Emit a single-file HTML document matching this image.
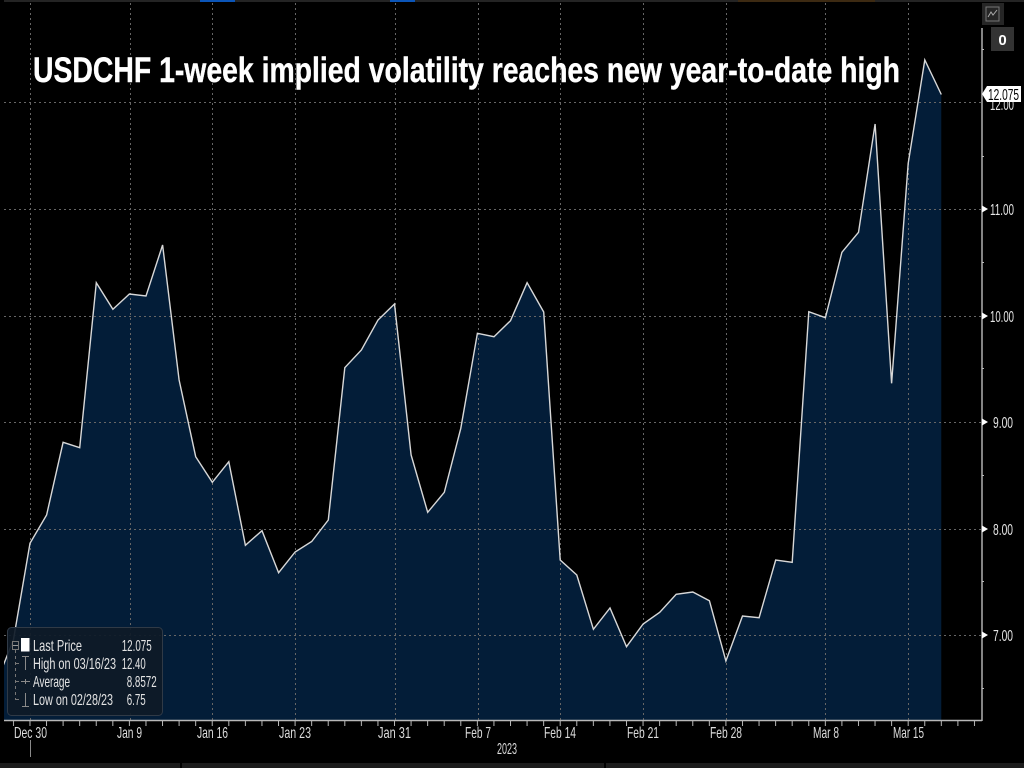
<!DOCTYPE html>
<html>
<head>
<meta charset="utf-8">
<style>
  html,body{margin:0;padding:0;background:#000;}
  body{width:1024px;height:768px;overflow:hidden;}
  svg{display:block;}
  text{font-family:"Liberation Sans",sans-serif;}
</style>
</head>
<body>
<svg width="1024" height="768" viewBox="0 0 1024 768" xmlns="http://www.w3.org/2000/svg">
  <defs>
    <clipPath id="plot"><rect x="4" y="0" width="978" height="720"/></clipPath>
    <pattern id="ticks" patternUnits="userSpaceOnUse" x="12.9" y="720" width="16.57" height="6">
      <rect x="0" y="0" width="1" height="6" fill="#b8b8b8"/>
    </pattern>
  </defs>

  <rect x="0" y="0" width="1024" height="768" fill="#000"/>

  <rect x="4" y="0" width="1020" height="2" fill="#242424"/>
  <rect x="200" y="0" width="35" height="2" fill="#0b55b8"/>
  <rect x="390" y="0" width="25" height="2" fill="#0b55b8"/>
  <rect x="738" y="0" width="137" height="2" fill="#3d2a12"/>

  <g clip-path="url(#plot)">
    <polygon fill="#031d38" points="-3,720 -3,681 13.4,640 30,543.3 46.6,515 63.1,442.3 79.7,447.7 96.3,282.7 112.9,309.3 129.4,294 146,296 162.6,245 179.1,380 195.7,456.7 212.3,482.3 228.8,461.7 245.4,545.3 262,530.7 278.6,572.7 295.1,552 311.7,541.5 328.3,520 344.8,367.7 361.4,350 378,320 394.5,304 411.1,455 427.7,512.3 444.3,492.3 460.8,428.3 477.4,333.3 494,336.7 510.5,320.7 527.1,282.7 543.7,312 560.2,560 576.8,575 593.4,629.3 610,608 626.5,646.7 643.1,624 659.7,612.3 676.2,594.3 692.8,592 709.4,600.7 725.9,661 742.5,616 759.1,617.7 775.7,560 792.2,562.3 808.8,311.7 825.4,317.7 841.9,252.3 858.5,232.3 875.1,124 891.6,383.3 908.2,163.3 924.8,60 941.3,94.5 941.3,720"/>
  </g>

  <g stroke="#666" stroke-width="1" stroke-dasharray="2,3" fill="none">
    <path d="M30.5 3V720M130.5 3V720M212.5 3V720M295.5 3V720M395.5 3V720M478.5 3V720M560.5 3V720M643.5 3V720M726.5 3V720M825.5 3V720M908.5 3V720"/>
    <path d="M4 102.5H982M4 209.5H982M4 316.5H982M4 422.5H982M4 529.5H982M4 635.5H982"/>
  </g>

  <g clip-path="url(#plot)">
    <polyline fill="none" stroke="#d8d8d8" stroke-width="1.4" points="-3,681 13.4,640 30,543.3 46.6,515 63.1,442.3 79.7,447.7 96.3,282.7 112.9,309.3 129.4,294 146,296 162.6,245 179.1,380 195.7,456.7 212.3,482.3 228.8,461.7 245.4,545.3 262,530.7 278.6,572.7 295.1,552 311.7,541.5 328.3,520 344.8,367.7 361.4,350 378,320 394.5,304 411.1,455 427.7,512.3 444.3,492.3 460.8,428.3 477.4,333.3 494,336.7 510.5,320.7 527.1,282.7 543.7,312 560.2,560 576.8,575 593.4,629.3 610,608 626.5,646.7 643.1,624 659.7,612.3 676.2,594.3 692.8,592 709.4,600.7 725.9,661 742.5,616 759.1,617.7 775.7,560 792.2,562.3 808.8,311.7 825.4,317.7 841.9,252.3 858.5,232.3 875.1,124 891.6,383.3 908.2,163.3 924.8,60 941.3,94.5"/>
  </g>

  <text x="33" y="82" font-size="35" font-weight="bold" fill="#ffffff" stroke="#ffffff" stroke-width="0.4" textLength="867" lengthAdjust="spacingAndGlyphs">USDCHF 1-week implied volatility reaches new year-to-date high</text>

  <line x1="4" y1="720.5" x2="982" y2="720.5" stroke="#b8b8b8" stroke-width="1.5"/>
  <line x1="982" y1="28" x2="982" y2="721" stroke="#b0b0b0" stroke-width="1.5"/>
  <rect x="12.9" y="720" width="970" height="6" fill="url(#ticks)"/>

  <g fill="#dcdcdc" font-size="16">
    <text x="14" y="738" textLength="33" lengthAdjust="spacingAndGlyphs">Dec 30</text>
    <text x="117" y="738" textLength="25" lengthAdjust="spacingAndGlyphs">Jan 9</text>
    <text x="197" y="738" textLength="31" lengthAdjust="spacingAndGlyphs">Jan 16</text>
    <text x="279" y="738" textLength="32" lengthAdjust="spacingAndGlyphs">Jan 23</text>
    <text x="378" y="738" textLength="33" lengthAdjust="spacingAndGlyphs">Jan 31</text>
    <text x="465" y="738" textLength="26" lengthAdjust="spacingAndGlyphs">Feb 7</text>
    <text x="544" y="738" textLength="32" lengthAdjust="spacingAndGlyphs">Feb 14</text>
    <text x="627" y="738" textLength="32" lengthAdjust="spacingAndGlyphs">Feb 21</text>
    <text x="710" y="738" textLength="32" lengthAdjust="spacingAndGlyphs">Feb 28</text>
    <text x="813" y="738" textLength="26" lengthAdjust="spacingAndGlyphs">Mar 8</text>
    <text x="893" y="738" textLength="31" lengthAdjust="spacingAndGlyphs">Mar 15</text>
    <text x="497" y="754" textLength="20" lengthAdjust="spacingAndGlyphs">2023</text>
  </g>
  <line x1="30.5" y1="740" x2="30.5" y2="757" stroke="#8a8a8a" stroke-width="1"/>

  <rect x="0" y="763" width="180" height="5" fill="#1c1c1c"/>
  <rect x="182" y="763" width="422" height="5" fill="#1c1c1c"/>
  <rect x="606" y="763" width="418" height="5" fill="#1c1c1c"/>

  <g fill="#ffffff">
    <polygon points="982,205.5 988,209 982,212.5"/>
    <polygon points="982,312.5 988,316 982,319.5"/>
    <polygon points="982,418.5 988,422 982,425.5"/>
    <polygon points="982,525.5 988,529 982,532.5"/>
    <polygon points="982,631.5 988,635 982,638.5"/>
  </g>
  <g fill="#bbbbbb">
    <rect x="982" y="49" width="2" height="1"/>
    <rect x="982" y="156" width="2" height="1"/>
    <rect x="982" y="262" width="2" height="1"/>
    <rect x="982" y="368" width="2" height="1"/>
    <rect x="982" y="475" width="2" height="1"/>
    <rect x="982" y="581" width="2" height="1"/>
    <rect x="982" y="688" width="2" height="1"/>
  </g>
  <g fill="#e6e6e6" font-size="16">
    <text x="990" y="110" textLength="24" lengthAdjust="spacingAndGlyphs">12.00</text>
    <text x="990" y="215" textLength="24" lengthAdjust="spacingAndGlyphs">11.00</text>
    <text x="990" y="322" textLength="24" lengthAdjust="spacingAndGlyphs">10.00</text>
    <text x="993" y="428" textLength="20" lengthAdjust="spacingAndGlyphs">9.00</text>
    <text x="993" y="535" textLength="20" lengthAdjust="spacingAndGlyphs">8.00</text>
    <text x="993" y="641" textLength="20" lengthAdjust="spacingAndGlyphs">7.00</text>
  </g>

  <polygon points="982,94 987,86 1021,86 1021,102 987,102" fill="#ffffff"/>
  <text x="988" y="100" font-size="16" fill="#000" textLength="31" lengthAdjust="spacingAndGlyphs">12.075</text>

  <rect x="982" y="3" width="22" height="22" fill="#262626"/>
  <rect x="986" y="7" width="13" height="14" fill="none" stroke="#777" stroke-width="1"/>
  <polyline points="988,17 991,12 993,15 997,10" fill="none" stroke="#aaa" stroke-width="1"/>
  <rect x="991" y="27" width="23" height="24" fill="#333333"/>
  <text x="1002.5" y="45" font-size="15" font-weight="bold" fill="#ffffff" text-anchor="middle">0</text>

  <rect x="7.5" y="627.5" width="155" height="88" rx="4" ry="4" fill="#0e1a27" fill-opacity="0.92" stroke="#303a46" stroke-width="1"/>
  <g stroke="#777" stroke-width="1" fill="none">
    <rect x="12.5" y="641.5" width="6" height="8"/>
    <line x1="15.5" y1="650" x2="15.5" y2="700" stroke-dasharray="3,3"/>
    <path d="M15 663.5H19M15 681.5H19M15 699.5H19"/>
  </g>
  <line x1="13" y1="645.5" x2="18" y2="645.5" stroke="#999" stroke-width="1"/>
  <rect x="21" y="638" width="8.5" height="13.5" fill="#ffffff"/>
  <g stroke="#8a8a8a" stroke-width="1" fill="none">
    <path d="M22 656.5H29M25.5 656.5V670M21 681.5H30M25.5 679V684M25.5 693V706M22 706.5H29"/>
  </g>
  <g fill="#e4e4e4" font-size="16">
    <text x="33" y="651" textLength="49" lengthAdjust="spacingAndGlyphs">Last Price</text>
    <text x="121.7" y="651" textLength="30" lengthAdjust="spacingAndGlyphs">12.075</text>
    <text x="33" y="669" textLength="83" lengthAdjust="spacingAndGlyphs">High on 03/16/23</text>
    <text x="121.7" y="669" textLength="24" lengthAdjust="spacingAndGlyphs">12.40</text>
    <text x="33" y="687" textLength="37" lengthAdjust="spacingAndGlyphs">Average</text>
    <text x="126.7" y="687" textLength="30" lengthAdjust="spacingAndGlyphs">8.8572</text>
    <text x="33" y="705" textLength="80" lengthAdjust="spacingAndGlyphs">Low on 02/28/23</text>
    <text x="126.7" y="705" textLength="19" lengthAdjust="spacingAndGlyphs">6.75</text>
  </g>
</svg>
</body>
</html>
